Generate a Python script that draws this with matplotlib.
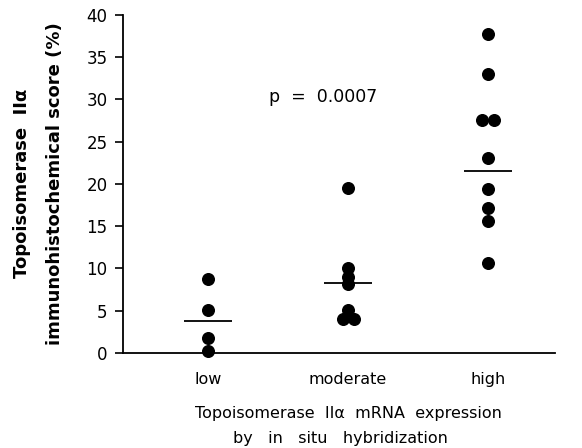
import matplotlib.pyplot as plt
import numpy as np

plt.rcParams['font.family'] = ['DejaVu Sans']

# data
groups = ['low', 'moderate', 'high']
low = [8.8, 5.1, 1.8, 0.2]
moderate = [19.5, 10.1, 9.0, 8.2, 5.1, 4.0, 4.0]
high = [37.7, 33.0, 27.6, 27.6, 23.1, 19.4, 17.2, 15.6, 10.6]
means = [3.8, 8.3, 21.5]
p_text = 'p  =  0.0007'

fig = plt.figure(figsize=(5.82, 4.48), dpi=100)
ax = fig.add_axes([0.211, 0.212, 0.743, 0.755])

for i, vals in enumerate([low, moderate, high]):
    vals = np.array(vals)
    xs = np.full(len(vals), i + 1.0)
    # spread tied values side by side
    for v in np.unique(vals):
        idx = np.where(vals == v)[0]
        if len(idx) > 1:
            xs[idx] += np.linspace(-0.04, 0.04, len(idx))
    ax.scatter(xs, vals, s=70, color='black', zorder=3, clip_on=False)
    ax.hlines(means[i], i + 1 - 0.17, i + 1 + 0.17, color='black', lw=1.3)

ax.set_xlim(0.39, 3.48)
ax.set_ylim(0, 40)
ax.set_yticks(range(0, 41, 5))
ax.set_xticks([1, 2, 3])
ax.set_xticklabels(groups)
ax.tick_params(axis='x', length=0, pad=14, labelsize=11.5)
ax.tick_params(axis='y', length=6, width=1.2, labelsize=12, pad=5)
for s in ['top', 'right']:
    ax.spines[s].set_visible(False)
for s in ['left', 'bottom']:
    ax.spines[s].set_linewidth(1.3)

ax.text(1.82, 30.3, p_text, ha='center', va='center', fontsize=12.5)

fig.text(0.038, 0.59, 'Topoisomerase  II\u03b1', rotation=90, ha='center',
         va='center', fontsize=13, fontweight='bold')
fig.text(0.095, 0.59, 'immunohistochemical score (%)', rotation=90,
         ha='center', va='center', fontsize=13, fontweight='bold')

fig.text(0.598, 0.078, 'Topoisomerase  II\u03b1  mRNA  expression', ha='center',
         va='center', fontsize=11.5)
fig.text(0.585, 0.022, 'by   in   situ   hybridization', ha='center',
         va='center', fontsize=11.5)

fig.savefig('out.png', dpi=100)
